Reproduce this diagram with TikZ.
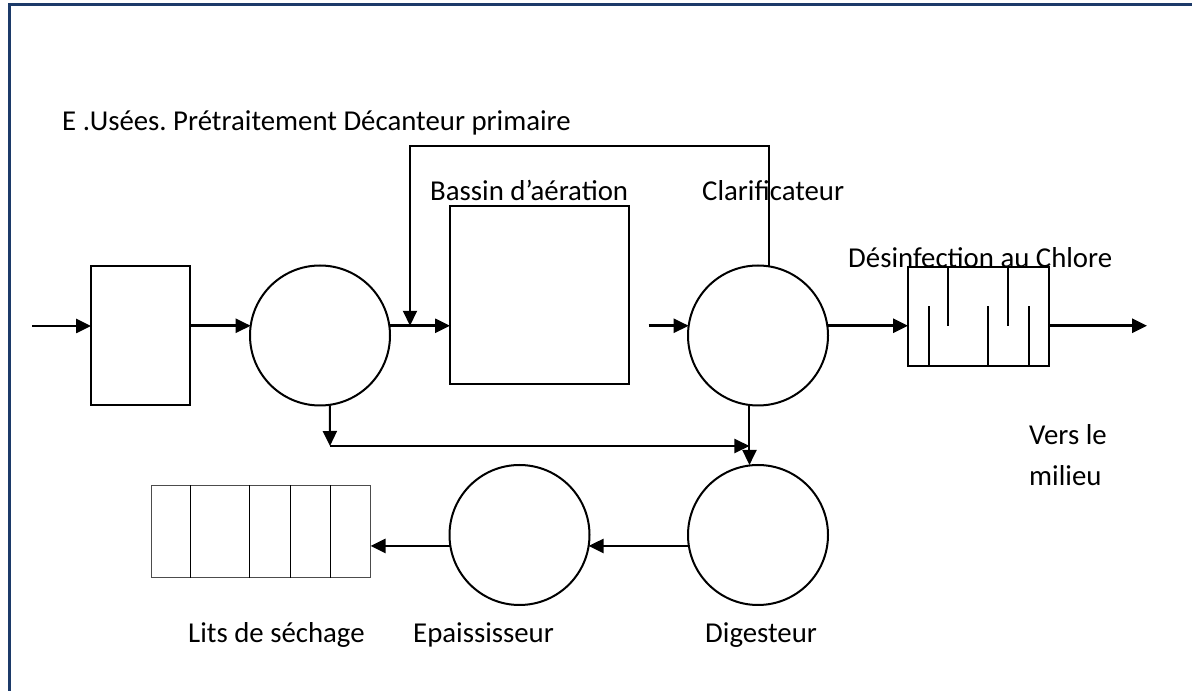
\documentclass[tikz,border=0pt]{standalone}
\usepackage{fontspec}
\setmainfont{Carlito}
\usetikzlibrary{arrows.meta,calc}
\definecolor{framecol}{RGB}{28,58,105}
\frenchspacing
\begin{document}
\begin{tikzpicture}[x=1pt,y=1pt,
  unit/.style={draw,line width=2pt,inner sep=0pt,outer sep=0pt},
  tank/.style={unit,circle,minimum size=140pt},
  flow/.style={line width=2.6pt,-{Triangle[length=15pt,width=14pt]}},
  thinflow/.style={line width=2pt,-{Triangle[length=15pt,width=14pt]}},
  lbl/.style={inner sep=0pt,anchor=base west,font=\fontsize{28.8}{34}\selectfont}]
\useasboundingbox (0,0) rectangle (1192,691);

% page frame (top and left rules)
\draw[framecol,line width=3pt] (1192,686) -- (9,686) -- (9,0);

% treatment units
\node[unit,rectangle,minimum width=99pt,minimum height=139pt] (pre) at (140.5,355.5) {};
\node[tank] (c1) at (320,355.5) {};
\node[unit,rectangle,minimum width=179pt,minimum height=178pt] (ab) at (539.5,396) {};
\node[tank] (c2) at (758,355.5) {};
\node[unit,rectangle,minimum width=141pt,minimum height=99pt] (cl) at (978.5,374.8) {};
\node[tank] (dg) at (758,156) {};
\node[tank] (ep) at (519.5,156) {};
\node[draw=black!70,line width=1pt,rectangle,inner sep=0pt,
      minimum width=219pt,minimum height=92pt] (lits) at (260.5,159.3) {};

% chlorine contact baffles
\foreach \dx in {21,80,121}
  \draw[line width=2pt] ([xshift=\dx pt]cl.south west) -- ++(0,60);
\foreach \dx in {40,100}
  \draw[line width=2pt] ([xshift=\dx pt]cl.north west) -- ++(0,-59);

% drying bed partitions
\foreach \dx in {40,99,140,180}
  \draw[line width=1.5pt] ([xshift=\dx pt]lits.south west) -- ([xshift=\dx pt]lits.north west);

% free ends and bends
\coordinate (inlet) at (32,365);
\coordinate (outlet) at (1147,365);
\coordinate (rec) at (410,545);
\coordinate (jn) at (330,245);

% water line
\draw[flow] (inlet) -- (inlet -| pre.west);
\draw[flow] (pre.east |- c1.172) -- (c1.172);
\draw[flow] (c1.8) -- (c1.8 -| ab.west);
\draw[flow] ([xshift=-40pt]c2.172) -- (c2.172);
\draw[flow] (c2.8) -- (c2.8 -| cl.west);
\draw[flow] (c2.8 -| cl.east) -- (c2.8 -| outlet);

% sludge recirculation
\draw[thinflow] (c2.81) |- (rec) -- (rec |- c1.8);

% sludge line
\draw[thinflow] (c1.278) -- (jn);
\draw[thinflow] (jn) -- (jn -| c2.263);
\draw[thinflow] (c2.263) -- (c2.263 |- dg.north);
\draw[flow] (dg.189) -- (ep.351);
\draw[flow] (ep.189) -- (ep.189 -| lits.east);

% labels
\node[lbl] (t1) at (62,560) {E .Usées. Prétraitement Décanteur primaire};
\node[lbl] (t2) at (430,490) {Bassin d’aération};
\node[lbl] (t3) at (702,490) {Clarificateur};
\node[lbl] (t4) at (848,423) {Désinfection au Chlore};
\node[lbl] (t5) at (1029,246) {Vers le};
\node[lbl] (t6) at (1029,205) {milieu};
\node[lbl] (t7) at (188,48) {Lits de séchage};
\node[lbl] (t8) at (413,48) {Epaississeur};
\node[lbl] (t9) at (705,48) {Digesteur};
\end{tikzpicture}
\end{document}
